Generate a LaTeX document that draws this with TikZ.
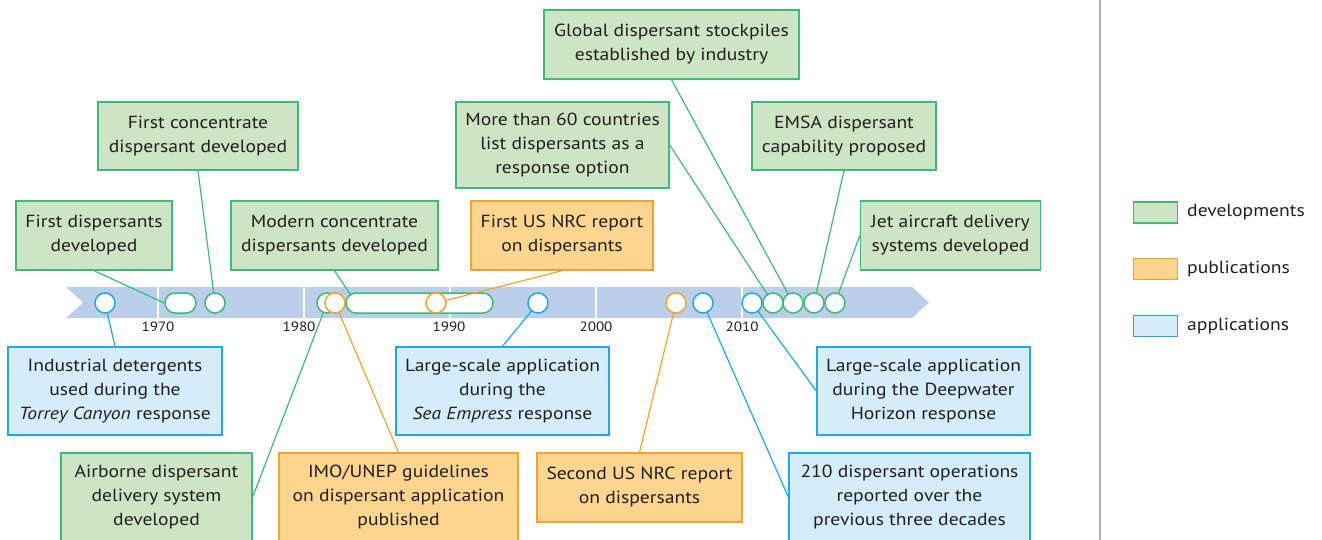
\documentclass[tikz,border=0pt]{standalone}
\usepackage{fontspec}
\setmainfont[FakeStretch=1.12]{PT Sans}
\usetikzlibrary{calc}
\definecolor{gstroke}{RGB}{61,186,122}
\definecolor{gfill}{RGB}{205,229,196}
\definecolor{ostroke}{RGB}{246,161,44}
\definecolor{ofill}{RGB}{253,213,142}
\definecolor{bstroke}{RGB}{30,170,231}
\definecolor{bfill}{RGB}{213,236,250}
\definecolor{barfill}{RGB}{187,206,234}
\definecolor{txt}{RGB}{35,31,32}
\definecolor{divider}{RGB}{176,176,176}
\pgfdeclarelayer{bg}
\pgfdeclarelayer{pills}
\pgfdeclarelayer{front}
\pgfsetlayers{bg,pills,main,front}
\begin{document}
\begin{tikzpicture}[x=1pt,y=-1pt,
  box/.style={rectangle, draw, line width=1.4pt, inner sep=0pt, align=center, text=txt,
              font=\fontsize{17.5}{24}\selectfont},
  gbox/.style={box, draw=gstroke, fill=gfill},
  obox/.style={box, draw=ostroke, fill=ofill},
  bbox/.style={box, draw=bstroke, fill=bfill},
  evt/.style={circle, fill=white, line width=1.5pt, minimum size=20pt, inner sep=0pt},
  gevt/.style={evt, draw=gstroke},
  oevt/.style={evt, draw=ostroke},
  bevt/.style={evt, draw=bstroke},
  pill/.style={rectangle, rounded corners=10pt, fill=white, draw=gstroke, line width=1.5pt,
               minimum height=20pt, inner sep=0pt},
  gconn/.style={draw=gstroke, line width=1.2pt},
  oconn/.style={draw=ostroke, line width=1.2pt},
  bconn/.style={draw=bstroke, line width=1.2pt},
  year/.style={text=txt, font=\fontsize{13.5}{16}\selectfont, inner sep=0pt},
  legbox/.style={rectangle, line width=1.4pt, minimum width=44pt, minimum height=21pt, inner sep=0pt},
  legtext/.style={text=txt, font=\fontsize{17.5}{24}\selectfont, inner sep=0pt, anchor=west}
]
\useasboundingbox (0,0) rectangle (1322,540);

% divider
\draw[divider, line width=1.4pt] (1100,0) -- (1100,540);

% timeline bar
\begin{pgfonlayer}{bg}
\fill[barfill] (66,287) -- (912,287) -- (929,302.5) -- (912,318) -- (66,318) -- (83,302.5) -- cycle;
\foreach \sx in {158,304,450,596,742}{
  \fill[white] (\sx-1.2,286) rectangle (\sx+1.2,319);
}
\end{pgfonlayer}

% year labels
\node[year] (y1970) at (158,326.5) {1970};
\node[year] (y1980) at (299,326.5) {1980};
\node[year] (y1990) at (449,326.5) {1990};
\node[year] (y2000) at (596,326.5) {2000};
\node[year] (y2010) at (742,326.5) {2010};

% pills
\begin{pgfonlayer}{pills}
\node[pill, minimum width=31pt] (pillA) at (180.5,303) {};
\node[pill, minimum width=147pt] (pillB) at (419.5,303) {};
\end{pgfonlayer}

% event circles
\begin{pgfonlayer}{front}
\node[bevt] (b1) at (105,303) {};
\node[gevt] (g3) at (215,303) {};
\node[gevt] (g4) at (327,303) {};
\node[oevt] (o2) at (335,303) {};
\node[oevt] (o3) at (436,303) {};
\node[bevt] (b2) at (538,303) {};
\node[oevt] (o4) at (676,303) {};
\node[bevt] (b3) at (703,303) {};
\node[bevt] (b4) at (752,303) {};
\node[gevt] (g5) at (773,303) {};
\node[gevt] (g6) at (793,303) {};
\node[gevt] (g7) at (814,303) {};
\node[gevt] (g8) at (835,303) {};
\end{pgfonlayer}

% boxes above
\node[gbox, minimum width=156pt, minimum height=69pt] (firstdisp) at (94,235.5) {First dispersants\\developed};
\node[gbox, minimum width=200pt, minimum height=68pt] (firstconc) at (198,136) {First concentrate\\dispersant developed};
\node[gbox, minimum width=207pt, minimum height=69pt] (modern) at (334.5,235.5) {Modern concentrate\\dispersants developed};
\node[obox, minimum width=182pt, minimum height=69pt] (nrcone) at (562,235.5) {First US NRC report\\on dispersants};
\node[gbox, minimum width=213pt, minimum height=86pt] (more) at (562.5,145) {More than 60 countries\\list dispersants as a\\response option};
\node[gbox, minimum width=255pt, minimum height=69pt] (global) at (671.5,44.5) {Global dispersant stockpiles\\established by industry};
\node[gbox, minimum width=184pt, minimum height=68pt] (emsa) at (844,136) {EMSA dispersant\\capability proposed};
\node[gbox, minimum width=180pt, minimum height=69pt] (jet) at (950.5,235.5) {Jet aircraft delivery\\systems developed};

% boxes below
\node[bbox, minimum width=214pt, minimum height=88pt] (torrey) at (115,391) {Industrial detergents\\used during the\\\textit{Torrey Canyon} response};
\node[gbox, minimum width=191pt, minimum height=88pt] (airborne) at (156.5,497) {Airborne dispersant\\delivery system\\developed};
\node[obox, minimum width=239pt, minimum height=88pt] (imo) at (398.5,497) {IMO/UNEP guidelines\\on dispersant application\\published};
\node[bbox, minimum width=213pt, minimum height=88pt] (sea) at (502.5,391) {Large-scale application\\during the\\\textit{Sea Empress} response};
\node[obox, minimum width=205pt, minimum height=69pt] (nrctwo) at (639.5,487.5) {Second US NRC report\\on dispersants};
\node[bbox, minimum width=213pt, minimum height=88pt] (deep) at (923.5,391) {Large-scale application\\during the Deepwater\\Horizon response};
\node[bbox, minimum width=241pt, minimum height=88pt] (ops) at (909.5,497) {210 dispersant operations\\reported over the\\previous three decades};

% connectors
\draw[gconn] (firstdisp.south) -- (pillA.west);
\draw[gconn] (firstconc.south) -- (g3.center);
\draw[gconn] (modern.south) -- ([xshift=5pt,yshift=-2pt]pillB.north west);
\draw[oconn] (nrcone.south) -- (o3.center);
\draw[gconn] (more.east) -- (g5.center);
\draw[gconn] (global.south) -- (g6.center);
\draw[gconn] (emsa.south) -- (g7.center);
\draw[gconn] (jet.west) -- (g8.center);
\draw[bconn] (torrey.north) -- (b1.center);
\draw[gconn] (airborne.east) -- (g4.center);
\draw[oconn] (imo.north) -- (o2.center);
\draw[bconn] (sea.north) -- (b2.center);
\draw[oconn] (nrctwo.north) -- (o4.center);
\draw[bconn] (deep.west) -- (b4.center);
\draw[bconn] (ops.west) -- (b3.center);

% legend
\node[legbox, draw=gstroke, fill=gfill] (lg) at (1155.5,212.5) {};
\node[legtext] (lgt) at (1187,212.5) {developments};
\node[legbox, draw=ostroke, fill=ofill] (lo) at (1155.5,269) {};
\node[legtext] (lot) at (1187,269) {publications};
\node[legbox, draw=bstroke, fill=bfill] (lb) at (1155.5,326) {};
\node[legtext] (lbt) at (1187,326) {applications};
\end{tikzpicture}
\end{document}
